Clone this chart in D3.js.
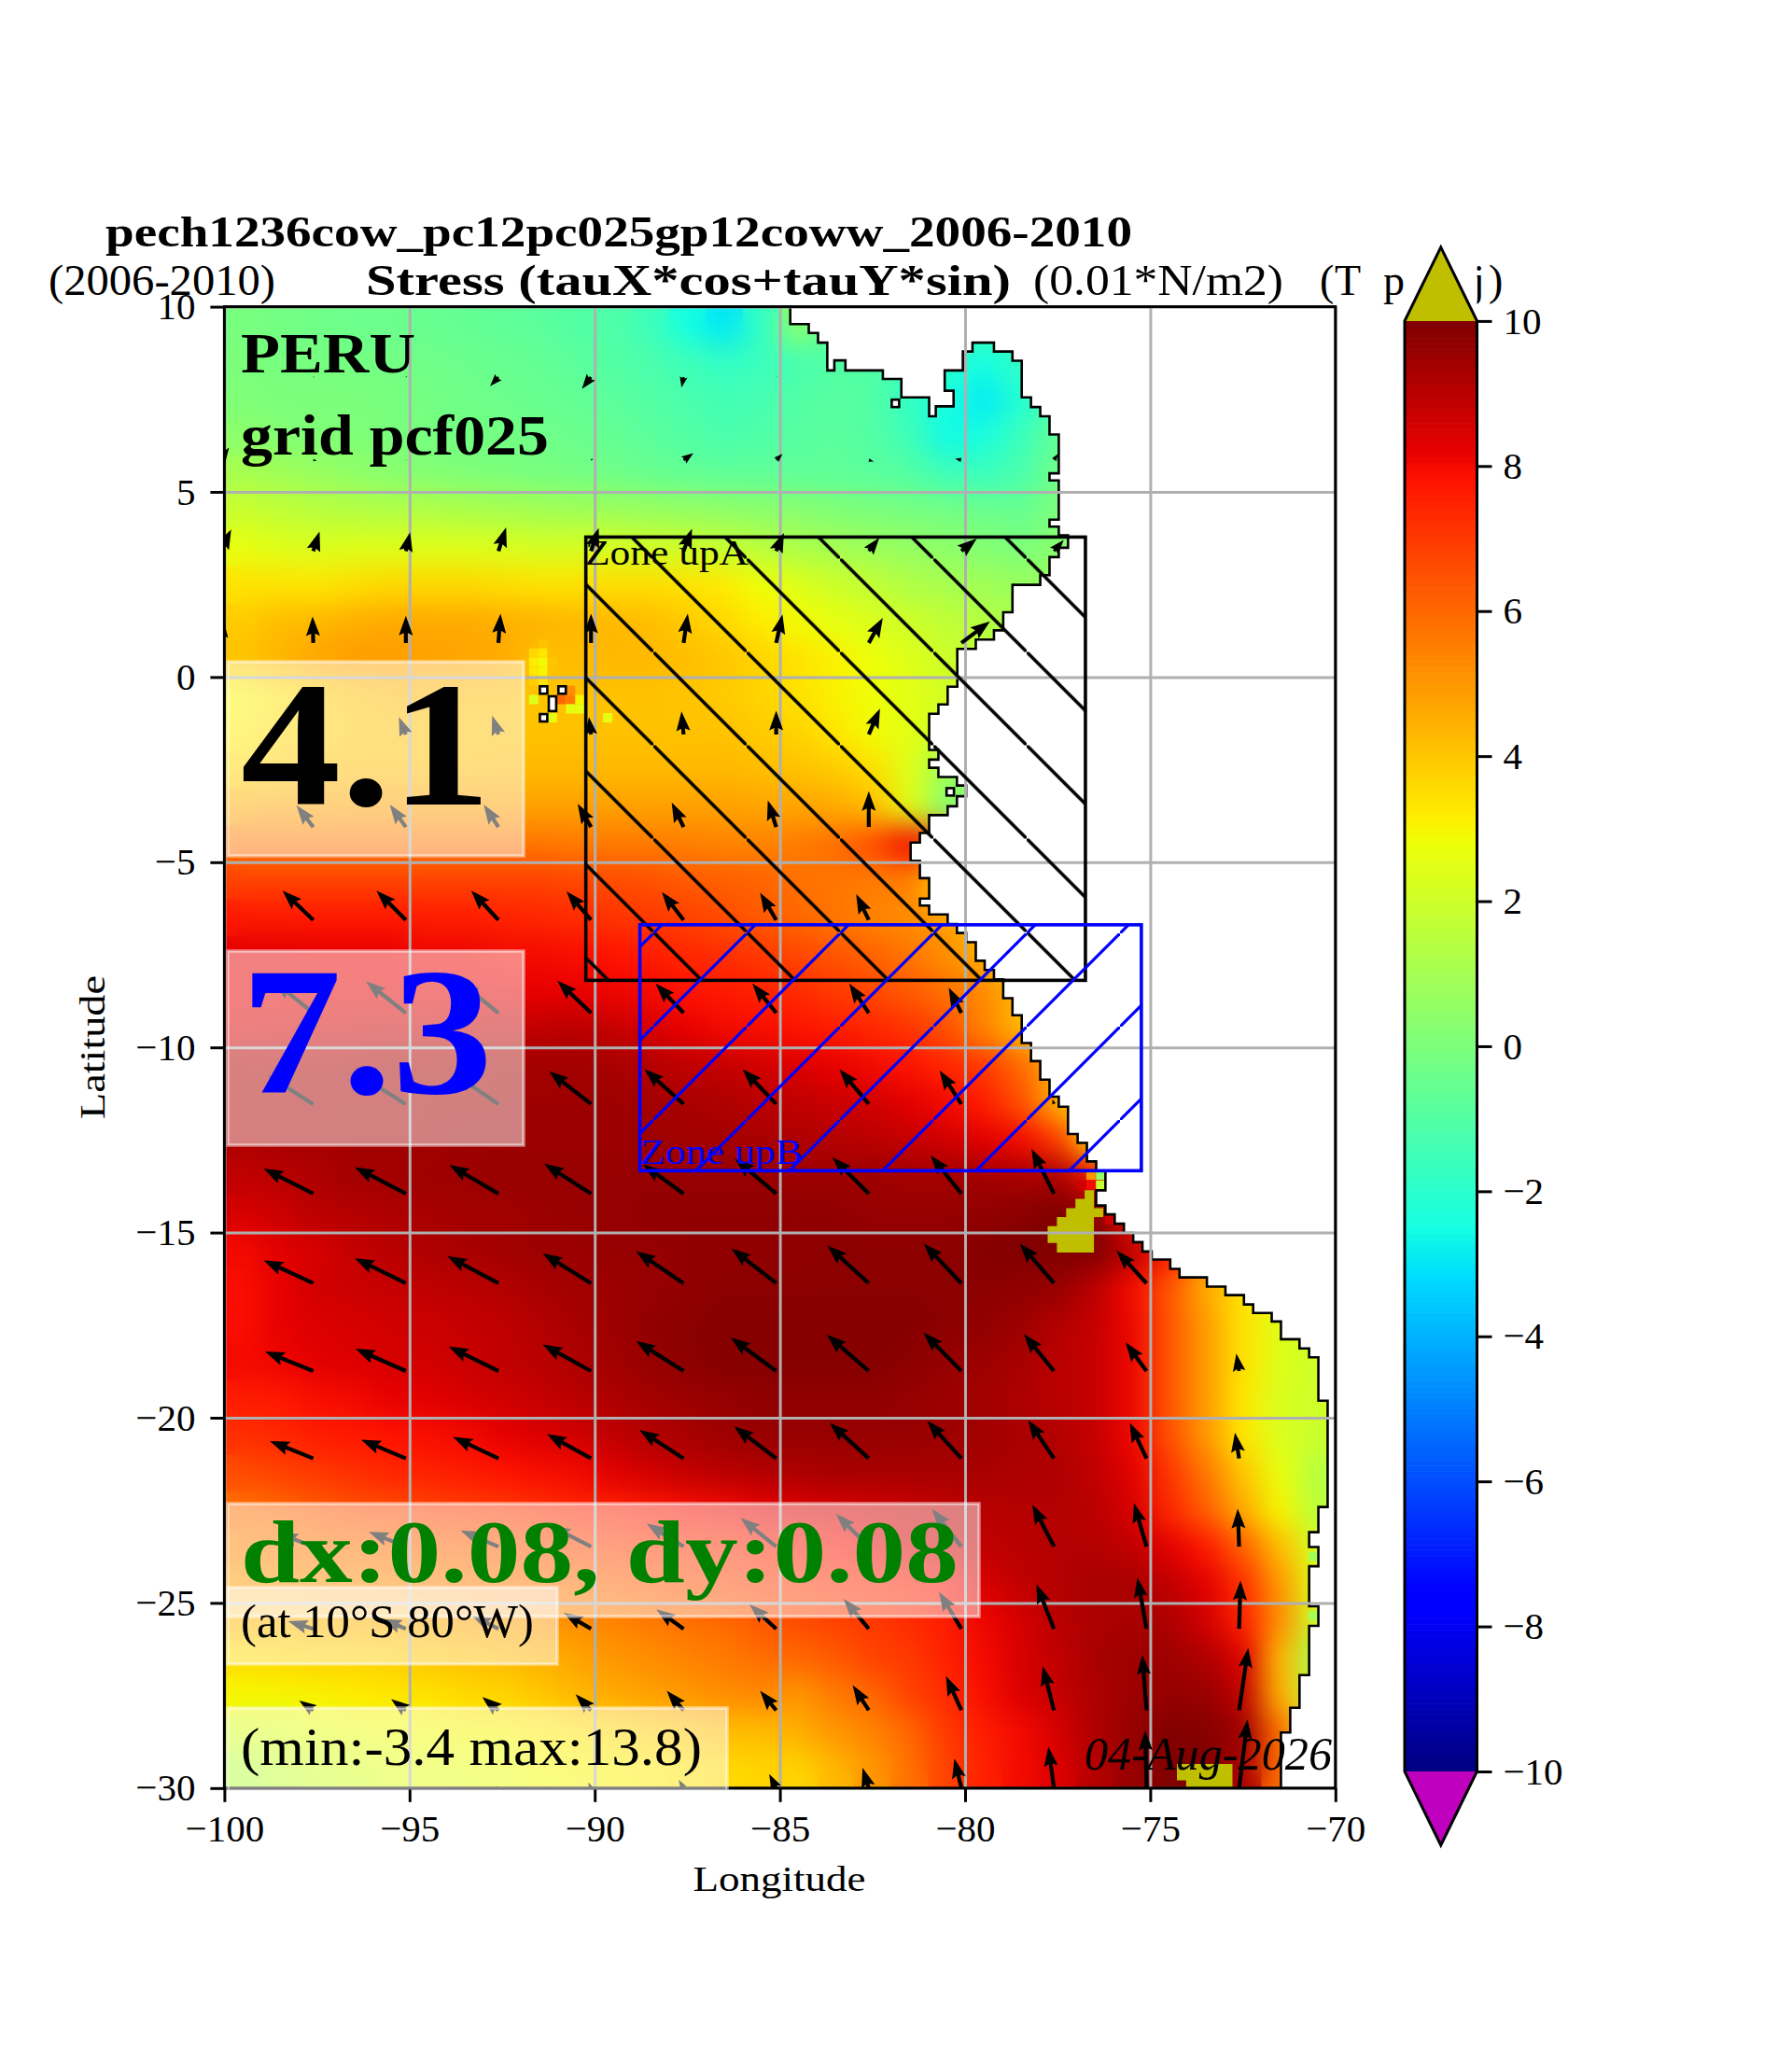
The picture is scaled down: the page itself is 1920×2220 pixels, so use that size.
<!DOCTYPE html>
<html>
<head>
<meta charset="utf-8">
<script src="https://cdn.jsdelivr.net/npm/d3@7"></script>
<style>
html,body{margin:0;padding:0;background:#fff}
svg{display:block}
text{font-family:"Liberation Serif",serif}
</style>
</head>
<body>
<svg id="chart" width="1920" height="2220"></svg>
<script>
// stress field, 1 degree boxes, north to south, west to east
var fieldLat = d3.range(9.5,-30,-1)
var fieldLon = d3.range(-99.5,-70,1)
var stress = [
[-.1,-.2,-.3,-.4,-.4,-.5,-.6,-.7,-.8,-1,-1.1,-1.5,-2.5,-3,-1.8,.5,-1,-1,-1,-1,-1.5,-1.5,-1.5,-1,-1,-1,-1,-1,-1,-1],
[0,-.1,-.1,-.2,-.2,-.3,-.4,-.5,-.6,-.8,-1,-1.2,-1.5,-1.8,-1.6,-1.3,-1,-1,-1.5,-2,-2.5,-1.8,-1,-1,-1,-1,-1,-1,-1,-1],
[.1,0,0,0,-.1,-.2,-.3,-.4,-.5,-.6,-.8,-1,-1.2,-1.4,-1.3,-1,-.9,-1,-1.8,-2.4,-2.9,-2.2,-1,-1,-1,-1,-1,-1,-1,-1],
[.4,.2,.1,.1,0,-.1,-.2,-.2,-.3,-.4,-.6,-.8,-1,-1.2,-1.1,-.9,-.8,-1,-1.5,-2.6,-2.4,-1.6,-.6,-.5,-.5,-.5,-.5,-.5,-.5,-.5],
[1.1,.9,.7,.5,.3,.2,.1,0,-.1,-.2,-.3,-.5,-.6,-.7,-.7,-.7,-.7,-.8,-1,-1.5,-1.6,-1.2,-.3,-.2,-.2,-.2,-.2,-.2,-.2,-.2],
[1.9,1.7,1.5,1.4,1.3,1.3,1.2,1.1,1,.9,.8,.7,.6,.5,.4,.3,.1,0,-.1,-.2,-.4,-.5,0,.4,.4,.4,.4,.4,.4,.4],
[2.6,2.4,2.3,2.4,2.4,2.4,2.4,2.3,2.2,2.2,2.2,2.1,2,1.8,1.5,1.2,1,.8,.6,.4,.2,0,.3,.5,.5,.5,.5,.5,.5,.5],
[3.4,3.4,3.3,3.5,3.6,3.6,3.6,3.5,3.4,3.4,3.5,3.5,3.4,3.2,2.8,2.4,2,1.7,1.3,1.1,.9,.7,.7,.7,.7,.7,.7,.7,.7,.7],
[3.9,4.2,4.3,4.5,4.6,4.6,4.6,4.5,4.4,4.3,4.3,4.2,3.9,3.6,3.2,2.9,2.6,2.3,2,1.7,1.4,1.2,1,1,1,1,1,1,1,1],
[4.1,4.4,4.7,4.9,4.9,4.8,4.7,4.6,4.2,4.2,4.3,4.3,4.2,4,3.7,3.4,3.1,2.8,2.4,2,1.6,1.2,1,1,1,1,1,1,1,1],
[3,3.4,3.8,4.1,4.3,4.3,4.2,4.2,4,4.1,4.1,4.1,4,3.9,3.7,3.4,3.1,2.8,2.5,2.2,1.6,1.2,1,1,1,1,1,1,1,1],
[3.2,3.6,3.8,4,4.1,4.1,4.1,4.1,4.1,4.1,4.1,4.1,4.1,4.1,3.9,3.7,3.3,2.9,2.5,2,1.5,1,1,1,1,1,1,1,1,1],
[3.7,3.9,4.1,4.2,4.2,4.2,4.2,4.3,4.3,4.3,4.3,4.3,4.3,4.3,4.2,4.1,3.9,3.5,2.4,.8,.5,.5,.5,.5,.5,.5,.5,.5,.5,.5],
[4.6,4.7,4.7,4.8,4.8,4.8,4.8,4.8,4.8,4.8,4.8,4.8,4.8,4.8,4.7,4.7,4.6,4.2,2.5,.3,0,0,0,0,0,0,0,0,0,0],
[5.7,5.7,5.7,5.7,5.7,5.7,5.7,5.7,5.7,5.6,5.6,5.6,5.5,5.4,5.4,5.6,5.9,6.6,8,6,3,3,3,3,3,3,3,3,3,3],
[6.8,6.8,6.8,6.8,6.8,6.8,6.8,6.8,6.8,6.7,6.6,6.5,6.3,6.2,6.1,5.8,5.7,5.6,5.5,3.5,3,3,3,3,3,3,3,3,3,3],
[7.7,7.7,7.7,7.7,7.7,7.6,7.6,7.5,7.4,7.3,7.1,7,6.8,6.6,6.3,6,5.7,5.4,5.2,4.8,4,3.5,3,3,3,3,3,3,3,3],
[8.3,8.3,8.2,8.2,8.2,8.1,8.1,8,8,7.9,7.8,7.6,7.4,7.2,7,6.7,6.4,6.1,5.7,5.2,4.5,3.5,3,3,3,3,3,3,3,3],
[8.2,8.2,8.2,8.2,8.2,8.2,8.2,8.2,8.2,8.2,8.1,8,7.8,7.7,7.5,7.3,7,6.7,6.3,5.8,5.3,4.3,3.5,3,3,3,3,3,3,3],
[8.4,8.5,8.6,8.6,8.7,8.7,8.8,8.8,8.9,9,8.8,8.5,8.2,8,7.9,7.8,7.6,7.4,7.1,6.5,5.4,4.3,3.5,3,3,3,3,3,3,3],
[9.2,9.2,9.2,9.3,9.3,9.3,9.3,9.4,9.4,9.4,9.3,9.1,8.9,8.8,8.6,8.4,8.2,8,7.8,7.4,7,6,4.5,3.5,3,3,3,3,3,3],
[9.2,9.2,9.3,9.3,9.3,9.4,9.4,9.4,9.5,9.5,9.5,9.4,9.3,9.2,9,8.9,8.7,8.6,8.3,8,7.6,6.5,4.5,3,3,3,3,3,3,3],
[9.2,9.3,9.3,9.4,9.4,9.4,9.5,9.5,9.5,9.5,9.5,9.5,9.4,9.4,9.3,9.2,9.1,9,8.8,8.6,8.3,8,7,3.5,3,3,3,3,3,3],
[8.9,9,9.2,9.4,9.4,9.5,9.5,9.6,9.6,9.6,9.6,9.6,9.6,9.6,9.6,9.5,9.5,9.5,9.4,9.4,9.4,9.3,9.3,8,1,1,1,1,1,1],
[8.5,8.7,9,9.1,9.2,9.3,9.4,9.4,9.5,9.6,9.6,9.7,9.7,9.7,9.7,9.7,9.7,9.6,9.6,9.6,9.7,9.8,10,10,8,5,5,5,5,5],
[8,8.3,8.5,8.8,9,9.2,9.3,9.4,9.5,9.5,9.6,9.6,9.7,9.7,9.7,9.7,9.8,9.8,9.8,9.8,9.9,10,10,10,9,7.8,5,5,5,5],
[7.9,8.2,8.6,8.7,8.8,8.9,9,9.1,9.3,9.4,9.5,9.6,9.7,9.8,9.8,9.8,9.8,9.8,9.8,9.8,9.8,9.7,9.6,9,8,6.4,4.6,3.4,3,3],
[7.9,8.2,8.4,8.5,8.6,8.7,8.8,8.9,9.1,9.3,9.5,9.7,9.8,9.9,9.9,9.9,9.9,9.9,9.9,9.8,9.7,9.5,9.1,8.8,8.1,6.4,4.9,3.4,2.4,2],
[8,8.1,8.3,8.4,8.5,8.6,8.7,8.9,9,9.2,9.4,9.6,9.8,9.9,9.9,9.9,9.9,9.9,9.8,9.6,9.5,9.3,9,8.8,8.1,6.4,4.9,3.4,2.4,2],
[7.6,7.7,7.9,8,8.2,8.3,8.5,8.6,8.8,9,9.2,9.4,9.5,9.6,9.7,9.7,9.7,9.7,9.6,9.5,9.4,9.2,9,8.8,8.1,6.4,4.9,3.3,2.3,2],
[7.2,7.4,7.6,7.7,7.8,7.9,8,8.2,8.4,8.6,8.9,9.1,9.3,9.5,9.6,9.6,9.6,9.6,9.6,9.5,9.4,9.3,9.1,8.8,8.1,6.5,5,3.3,2.3,1.9],
[6.6,6.8,7,7.2,7.4,7.5,7.6,7.8,7.9,8,8.3,8.6,8.8,9,9.1,9.2,9.3,9.3,9.3,9.3,9.3,9.2,9.2,8.9,8.3,7.1,5.7,4,2.7,1.4],
[5.8,6,6.3,6.5,6.6,6.8,6.9,7,7.2,7.4,7.5,7.7,7.9,8,8.2,8.4,8.5,8.6,8.7,8.9,9,9.1,9.1,9,8.5,7.4,6.2,4.6,3,1.5],
[5.4,5.5,5.7,5.8,5.9,6,6.1,6.2,6.4,6.6,6.8,7,7.1,7.2,7.4,7.6,7.8,8.1,8.4,8.6,8.9,9,9.1,9.1,8.9,8.3,7.7,6.2,4.2,2.2],
[4.9,5,5.1,5.2,5.3,5.4,5.5,5.6,5.7,5.9,6.1,6.3,6.5,6.7,6.9,7,7.2,7.3,7.5,7.8,8.5,8.9,9.1,9.3,9.3,8.9,8.3,7.2,5,2.5],
[4.3,4.3,4.4,4.4,4.5,4.6,4.7,4.8,5,5.2,5.4,5.6,5.8,6,6.3,6.6,6.8,7,7.3,7.6,8.1,8.5,9,9.2,9.3,9.2,8.6,7.5,5.2,2],
[3.5,3.6,3.7,3.7,3.8,4,4.1,4.2,4.4,4.7,5,5.2,5.4,5.6,5.9,6,6.3,6.8,7,7.5,8,8.5,8.9,9.3,9.5,9.5,9.2,8.4,4.3,1],
[3,3,3.1,3.2,3.3,3.4,3.6,3.7,4,4.3,4.6,4.8,5,5.2,5.3,5,5.6,6,6.8,7.3,7.9,8.4,8.8,9.2,9.5,9.6,9.6,8.9,4.5,1.5],
[2.2,2.3,2.5,2.7,2.8,2.9,3,3,3.2,3.4,3.6,3.8,4,4.2,4.2,4.5,5,5.4,6,7,7.6,8,8.5,9.2,9.6,10,9.9,9.5,6,2.5],
[1.4,1.7,2,2.2,2.4,2.5,2.6,2.7,2.9,3,3.1,3.2,3.4,3.6,3.7,3.7,4.3,5,5.8,6.8,7.5,8,8.4,9.1,9.6,10,10,9.3,6,3]
]

// single 0.25 degree boxes that stand out from their surroundings
var spotLon = [-91.4,-91.65,-91.4,-91.15,-91.65,-91.4,-91.15,-91.9,-91.65,-91.4,-91.15,-91.9,-91.65,-91.4,
  -90.9,-90.65,-90.9,-90.65,-90.4,-91.65,-90.65,-90.4,-89.65,-91.15,
  -76.34,-76.34,-76.6,-76.6,-76.85,-75.6,-75.35,-76.1,-70.6,-70.6,-81.35,-80.85]
var spotLat = [.9,.65,.65,.65,.4,.4,.4,.4,.15,.15,.15,.15,-.1,-.1,
  -.36,-.36,-.61,-.61,-.61,-.61,-.86,-.86,-1.1,-1.1,
  -13.45,-13.72,-13.72,-13.45,-13.72,-14.9,-15.1,-14.65,-23.75,-25.35,-4.6,-5.9]
var spotVal = [4.1,3.6,3.3,4.2,3.2,2.9,4,4.2,3.3,3,4.1,4.2,3.8,3.4,
  5,5.2,6,5.6,3,2.4,2.6,2.6,2.6,2.6,
  .6,1.8,8,5,8.6,5,2.5,8.6,1,1,8,7.8]

// masked islets and the like
var holeLon = [-91.38,-90.88,-91.14,-91.38,-81.88,-80.4]
var holeLat = [-.35,-.35,-.72,-1.1,7.39,-3.1]
var holeRows = [1,1,2,1,1,1]

// coast, drawn as stairs: go down to coastLat, then across to coastLon
var coastStartLon = -84.72
var coastLat = [9.53,9.29,9.03,8.28,8.55,8.28,8.05,7.55,7.04,7.31,7.73,8.28,8.79,9.03,8.79,8.54,7.55,7.29,7.04,6.55,
  5.5,5.31,4.25,4.06,3.83,3.49,3.24,2.75,2.49,1.75,1.26,1.01,.76,-.26,-.74,-.99,-1.97,-2.23,-2.45,-2.7,
  -2.93,-3.22,-3.49,-3.73,-4.21,-4.47,-4.96,-5.43,-5.98,-6.17,-6.41,-6.67,-6.91,-7.16,-7.66,-7.91,-8.16,-8.67,-9.13,-9.88,
  -10.37,-10.87,-11.33,-11.6,-12.34,-12.58,-13.08,-13.33,-13.86,-14.27,-14.51,-14.76,-15.01,-15.26,-15.51,-15.73,-15.98,-16.21,-16.46,-16.69,
  -16.94,-17.17,-17.4,-17.88,-18.13,-18.37,-19.54,-22.41,-23.09,-23.49,-24.01,-25.09,-25.62,-26.95,-27.83,-28.5,-30]
var coastLon = [-84.22,-83.97,-83.72,-83.53,-83.23,-82.22,-81.72,-80.97,-80.79,-80.31,-80.55,-80.06,-79.8,-79.22,-78.72,-78.47,-78.22,-77.97,-77.72,-77.47,
  -77.72,-77.47,-77.72,-77.47,-77.22,-77.47,-77.72,-77.97,-78.72,-78.97,-79.22,-79.71,-80.21,-80.47,-80.72,-80.97,-80.72,-80.97,-80.72,-80.22,
  -79.97,-80.22,-80.47,-80.97,-81.22,-81.47,-81.22,-80.97,-81.22,-80.97,-80.47,-80.22,-79.97,-79.71,-79.47,-79.22,-78.97,-78.72,-78.47,-78.22,
  -77.97,-77.72,-77.47,-77.22,-76.96,-76.71,-76.46,-76.21,-76.46,-76.21,-75.96,-75.71,-75.46,-75.21,-74.96,-74.46,-74.21,-73.47,-72.97,-72.47,
  -72.22,-71.72,-71.47,-70.97,-70.71,-70.46,-70.21,-70.46,-70.71,-70.46,-70.71,-70.46,-70.71,-70.97,-71.22,-71.47,-71.47]

// boxes above the top of the colour scale
var capeLon = [-76.52,-76.77,-76.77,-77.02,-77.02,-77.27,-77.27,-77.52,-77.52,-77.77,-77.77,-77.52,-77.52,-76.52,-76.52,-76.27,-76.27,-76.52]
var capeLat = [-13.86,-13.86,-14.09,-14.09,-14.34,-14.34,-14.58,-14.58,-14.83,-14.83,-15.28,-15.28,-15.54,-15.54,-14.58,-14.58,-14.34,-14.34]
var southLon = [-74.28,-72.78,-72.78,-74.03,-74.03,-74.28]
var southLat = [-29.35,-29.35,-30,-30,-29.79,-29.79]

// wind stress vectors, 0.01 N/m2
var quiverLon = [-100.1,-97.6,-95.1,-92.6,-90.1,-87.6,-85.1,-82.6,-80.1,-77.6,-75.1,-72.6]
var quiverLat = [8.1,5.86,3.4,.92,-1.55,-4.05,-6.56,-9.07,-11.53,-13.95,-16.37,-18.74,-21.1,-23.48,-25.7,-27.9,-30]
var quiverU = [
[.3,.2,.2,-1.2,-1.3,-.3,.1,null,null,null,null,null],
[1.2,.5,.1,0,.3,1.4,.9,.7,-.9,.6,null,null],
[1.5,.9,.6,1.1,1.1,1.2,1.1,1.5,2.2,1.4,null,null],
[.3,-.1,0,.3,0,.6,.9,2,4.1,null,null,null],
[-.3,-1,-1,-.9,-.3,-.3,0,1.6,null,null,null,null],
[null,-2.4,-2.3,-2.1,-1.9,-1.7,-1.2,0,null,null,null,null],
[null,-4.4,-4.2,-3.9,-3.5,-3.1,-2.3,-1.8,null,null,null,null],
[null,-5.6,-5.7,-5.5,-4.8,-4,-3.4,-2.8,-1.8,null,null,null],
[null,-6.5,-6.4,-6.2,-6,-5.6,-4.8,-4.2,-3.1,-.2,null,null],
[null,-7.1,-7.3,-7,-6.7,-5.8,-5.9,-5.2,-4.4,-3.2,null,null],
[null,-7.1,-7.3,-7.3,-6.9,-6.8,-6.4,-5.9,-5.4,-4.9,-4.3,null],
[null,-6.9,-7.2,-7.1,-6.9,-6.8,-6.5,-6,-5.4,-4.3,-3,-.4],
[null,-6.2,-6.4,-6.5,-6.3,-6.3,-6,-5.6,-4.9,-3.7,-2.4,-.6],
[null,-5,-5.3,-5.4,-5.7,-5.3,-5.1,-4.7,-4.2,-3.1,-1.8,-.2],
[null,-3.6,-3.4,-3.8,-3.9,-3.9,-3.8,-3.6,-3.2,-2.5,-1.3,.2],
[null,-2,-2.1,-2.3,-2.2,-2.4,-2.3,-2.3,-2.2,-1.6,-.6,1.3],
[null,-.1,-.2,-.3,-.4,-.7,-1,-.9,-1,-.8,-.2,1.2]
]
var quiverV = [
[0,0,.1,-1.3,-1.7,-1.5,.1,null,null,null,null,null],
[1.8,-.1,.1,.1,.2,1,.9,-.2,.2,.9,null,null],
[3.1,2.8,2.7,3.4,3.3,3.2,2.6,1.9,1.8,1.6,null,null],
[3.6,3.8,3.9,4.2,4.2,4.2,4.1,3.6,3.1,null,null,null],
[1,2.5,2.5,2.7,2.5,3.3,3.4,3.7,null,null,null,null],
[null,3.1,3.2,3.2,3.3,3.5,3.8,5.1,null,null,null,null],
[null,4.2,4.2,4.2,4.1,4,3.9,3.7,null,null,null,null],
[null,4.5,4.5,4.5,4.6,4.2,4.2,4.2,3.6,null,null,null],
[null,4.1,4,4.2,4.7,5,5,5,4.8,.7,null,null],
[null,3.6,3.8,4.1,4.3,4.2,5,5.2,5.5,6.4,null,null],
[null,3.3,3.6,3.9,4.3,4.6,5,5.4,5.7,5.7,4.7,null],
[null,2.8,3.2,3.5,3.8,4.3,4.8,5.2,5.5,5.3,4.1,2.5],
[null,2.5,2.7,3.1,3.5,4.1,4.6,5.1,5.4,5.5,5.1,3.7],
[null,1.9,2.1,2.3,2.9,3.3,4.1,4.7,5.4,6,6.2,5.4],
[null,1.1,1.4,1.9,2.3,2.8,3.5,4.3,5.3,6.4,7.3,6.9],
[null,1.4,1.6,1.9,2.3,2.8,2.8,3.6,4.9,6.3,7.9,8.9],
[null,.2,.2,.3,.8,1.2,2,2.9,4.2,5.9,8.2,9.8]
]

var lonTicks = [-100,-95,-90,-85,-80,-75,-70]
var latTicks = [10,5,0,-5,-10,-15,-20,-25,-30]
var barTicks = [-10,-8,-6,-4,-2,0,2,4,6,8,10]

// zones: west, east, south, north
var zoneA = [-90.24,-76.75,-8.19,3.78]
var zoneB = [-88.78,-75.24,-13.33,-6.69]

// matplotlib jet, break points on 0..1
var jetT = [0,.11,.125,.34,.35,.375,.64,.65,.66,.89,.91,1]
var jetR = [0,0,0,0,0,.081,.935,.968,1,1,.909,.5]
var jetG = [0,0,0,.86,.9,1,1,.963,.926,.074,0,0]
var jetB = [.5,1,1,1,.968,.887,.032,0,0,0,0,0]
var overColor = "#bfbf00"
var underColor = "#bf00bf"

var dimensions = {left:240.4, right:1430.8, top:328.6, bottom:1915.8}
var bar = {left:1505, right:1582.5, top:343.9, bottom:1898, tipTop:264.8, tipBottom:1977}

var xScale = d3.scaleLinear().domain([-100,-70]).range([dimensions.left,dimensions.right])
var yScale = d3.scaleLinear().domain([10,-30]).range([dimensions.top,dimensions.bottom])
var barScale = d3.scaleLinear().domain([10,-10]).range([bar.top,bar.bottom])
var colorScale = d3.scaleLinear()
  .domain(jetT.map(t => t*20-10))
  .range(jetT.map((t,i) => d3.rgb(jetR[i]*255,jetG[i]*255,jetB[i]*255).toString()))
  .clamp(true)

var svg = d3.select("#chart")
var defs = svg.append("defs")

// sea polygon
var seaPoints = [[-100,10],[coastStartLon,10]]
var curLon = coastStartLon
coastLat.forEach((lat,i) => {
  seaPoints.push([curLon,lat])
  curLon = coastLon[i]
  seaPoints.push([curLon,lat])
})
seaPoints.push([curLon,-30],[-100,-30])
var geoLine = d3.line().x(d => xScale(d[0])).y(d => yScale(d[1]))

defs.append("clipPath").attr("id","seaClip").append("path").attr("d",geoLine(seaPoints)+"Z")
defs.append("clipPath").attr("id","axesClip").append("rect")
  .attr("x",dimensions.left).attr("y",dimensions.top)
  .attr("width",dimensions.right-dimensions.left).attr("height",dimensions.bottom-dimensions.top)
defs.append("filter").attr("id","smooth").attr("filterUnits","userSpaceOnUse")
  .attr("x",0).attr("y",0).attr("width",1920).attr("height",2220)
  .attr("color-interpolation-filters","sRGB")
  .append("feGaussianBlur").attr("stdDeviation",15)

// hatching
var hatchA = defs.append("pattern").attr("id","hatchA").attr("patternUnits","userSpaceOnUse")
  .attr("width",100).attr("height",100).attr("patternTransform","translate(0,-1.5)")
hatchA.append("path").attr("d","M-10,-10L110,110").attr("stroke","#000").attr("stroke-width",3.5)
var hatchB = defs.append("pattern").attr("id","hatchB").attr("patternUnits","userSpaceOnUse")
  .attr("width",100).attr("height",100)
hatchB.append("path").attr("d","M-10,110L110,-10").attr("stroke","#00f").attr("stroke-width",3.2)

// field
var fieldCells = []
stress.forEach((row,j) => row.forEach((v,i) => fieldCells.push({lon:fieldLon[i],lat:fieldLat[j],v:v})))
var field = svg.append("g").attr("clip-path","url(#seaClip)")
function drawCells(g){
  g.selectAll("rect").data(fieldCells).join("rect")
    .attr("x",d => xScale(d.lon-.5))
    .attr("y",d => yScale(d.lat+.5))
    .attr("width",xScale(1)-xScale(0)+.5)
    .attr("height",yScale(0)-yScale(1)+.5)
    .attr("fill",d => colorScale(d.v))
}
drawCells(field.append("g"))
drawCells(field.append("g").attr("filter","url(#smooth)"))

field.append("g").selectAll("rect").data(spotVal).join("rect")
  .attr("x",(d,i) => xScale(spotLon[i]-.125))
  .attr("y",(d,i) => yScale(spotLat[i]+.125))
  .attr("width",xScale(.25)-xScale(0))
  .attr("height",yScale(0)-yScale(.25))
  .attr("fill",d => colorScale(d))

var capePoints = capeLon.map((d,i) => [d,capeLat[i]])
var southPoints = southLon.map((d,i) => [d,southLat[i]])
field.append("path").attr("d",geoLine(capePoints)+"Z").attr("fill",overColor)
field.append("path").attr("d",geoLine(southPoints)+"Z").attr("fill",overColor)

// coast outline
svg.append("path").attr("d",geoLine(seaPoints.slice(1,-2).concat([[curLon,-30]])))
  .attr("fill","none").attr("stroke","#000").attr("stroke-width",2.6)
  .attr("clip-path","url(#axesClip)")

svg.append("g").selectAll("rect").data(holeLon).join("rect")
  .attr("x",(d,i) => xScale(d-.1))
  .attr("y",(d,i) => yScale(holeLat[i]+.1*holeRows[i]))
  .attr("width",xScale(.2)-xScale(0))
  .attr("height",(d,i) => (yScale(0)-yScale(.2))*holeRows[i])
  .attr("fill","#fff").attr("stroke","#000").attr("stroke-width",2.6)

// grid
var gridX = svg.append("g").attr("transform",`translate(0,${dimensions.bottom})`)
  .call(d3.axisBottom(xScale).tickValues(lonTicks).tickSize(dimensions.top-dimensions.bottom).tickFormat(""))
var gridY = svg.append("g").attr("transform",`translate(${dimensions.left},0)`)
  .call(d3.axisLeft(yScale).tickValues(latTicks).tickSize(dimensions.left-dimensions.right).tickFormat(""))
gridX.select(".domain").remove()
gridY.select(".domain").remove()
svg.selectAll("g g.tick line").attr("stroke","#b0b0b0").attr("stroke-width",3)

// arrows
var arrowScale = 7.5, shaftW = 4.2, headW = 15, headLen = 21, headAxis = 18.5
var arrows = []
quiverU.forEach((row,j) => row.forEach((u,i) => {
  if(u!==null) arrows.push({lon:quiverLon[i],lat:quiverLat[j],u:u,v:quiverV[j][i]})
}))
function arrowPath(d){
  var L = Math.hypot(d.u,d.v)*arrowScale
  var s = L<headLen ? L/headLen : 1
  var w = shaftW*s/2, hw = headW*s/2, hl = headLen*s, ha = headAxis*s
  return "M0,"+(-w)+"L"+(L-ha)+","+(-w)+"L"+(L-hl)+","+(-hw)+"L"+L+",0L"+(L-hl)+","+hw+"L"+(L-ha)+","+w+"L0,"+w+"Z"
}
svg.append("g").attr("clip-path","url(#axesClip)")
  .selectAll("path").data(arrows).join("path")
  .attr("d",arrowPath)
  .attr("transform",d => `translate(${xScale(d.lon)},${yScale(d.lat)}) rotate(${Math.atan2(-d.v,d.u)*180/Math.PI})`)
  .attr("fill","#000")

// zones
function drawZone(z,color,hatch,sw){
  svg.append("rect").attr("x",xScale(z[0])).attr("y",yScale(z[3]))
    .attr("width",xScale(z[1])-xScale(z[0])).attr("height",yScale(z[2])-yScale(z[3]))
    .attr("fill","url(#"+hatch+")").attr("stroke",color).attr("stroke-width",sw)
}
drawZone(zoneA,"#000","hatchA",3.6)
drawZone(zoneB,"#00f","hatchB",3.6)

function label(x,y,str,size,opt){
  opt = opt||{}
  var t = svg.append("text").attr("x",x).attr("y",y).text(str)
    .attr("font-size",size)
    .attr("fill",opt.color||"#000")
    .attr("font-weight",opt.bold?"bold":"normal")
    .attr("font-style",opt.italic?"italic":"normal")
  if(opt.width) t.attr("textLength",opt.width).attr("lengthAdjust","spacingAndGlyphs")
  return t
}
label(627,605,"Zone upA",38,{width:175})
label(686,1247,"Zone upB",38,{color:"#00f",width:174})

// spines and ticks
svg.append("rect").attr("x",dimensions.left).attr("y",dimensions.top)
  .attr("width",dimensions.right-dimensions.left).attr("height",dimensions.bottom-dimensions.top)
  .attr("fill","none").attr("stroke","#000").attr("stroke-width",3)
var xAxis = svg.append("g").attr("transform",`translate(0,${dimensions.bottom})`)
  .call(d3.axisBottom(xScale).tickValues(lonTicks).tickSize(15).tickPadding(13))
var yAxis = svg.append("g").attr("transform",`translate(${dimensions.left},0)`)
  .call(d3.axisLeft(yScale).tickValues(latTicks).tickSize(15).tickPadding(16))
;[xAxis,yAxis].forEach(a => {
  a.select(".domain").remove()
  a.selectAll("line").attr("stroke","#000").attr("stroke-width",3)
  a.selectAll("text").attr("font-size",41).attr("font-family","Liberation Serif").attr("fill","#000")
})

label(835,2026,"Longitude",37,{width:185}).attr("text-anchor","middle")
svg.append("text").attr("transform","translate(112,1122) rotate(-90)").attr("text-anchor","middle")
  .attr("font-size",37).attr("textLength",154).attr("lengthAdjust","spacingAndGlyphs").text("Latitude")

// titles
label(113,264,"pech1236cow_pc12pc025gp12coww_2006-2010",46,{bold:true,width:1100})
label(52,316,"(2006-2010)",46,{width:243})
label(392,316,"Stress (tauX*cos+tauY*sin)",46,{bold:true,width:691})
label(1107,316,"(0.01*N/m2)",46,{width:268})
label("1414 1430 1465 1482 1507 1530 1578 1595",316,"(T proj)",46)

// in-plot notes
function noteBox(x0,y0,x1,y1){
  svg.append("rect").attr("x",x0).attr("y",y0).attr("width",x1-x0).attr("height",y1-y0)
    .attr("fill","#fff").attr("fill-opacity",.5)
    .attr("stroke","#fff").attr("stroke-opacity",.5).attr("stroke-width",3.5)
}
label(258,399,"PERU",62,{bold:true,width:187})
label(258,487,"grid pcf025",62,{bold:true,width:330})
noteBox(244,709,561,917)
label(258,862,"4.1",190,{bold:true,width:268})
noteBox(244,1019,561,1227)
label(258,1171,"7.3",196,{bold:true,color:"#00f",width:270})
noteBox(244,1611,1049,1732)
label(258,1695,"dx:0.08, dy:0.08",95,{bold:true,color:"#008000",width:769})
noteBox(244,1701,597,1783)
label(258,1754,"(at 10°S 80°W)",50,{width:314})
svg.append("clipPath").attr("id","minClip").append("rect").attr("x",240).attr("y",1820).attr("width",560).attr("height",97.5)
var minG = svg.append("g").attr("clip-path","url(#minClip)")
minG.append("rect").attr("x",244).attr("y",1830).attr("width",535).attr("height",100)
  .attr("fill","#fff").attr("fill-opacity",.5).attr("stroke","#fff").attr("stroke-opacity",.5).attr("stroke-width",3.5)
label(258,1891,"(min:-3.4 max:13.8)",58,{width:494})
label(1162,1896,"04-Aug-2026",50,{italic:true,width:265})

// colour bar
svg.append("rect").attr("x",bar.left).attr("y",bar.tipTop).attr("width",bar.right-bar.left).attr("height",bar.top-bar.tipTop).attr("fill","#fff")
var barValues = d3.range(-10,10,20/256)
svg.append("g").selectAll("rect").data(barValues).join("rect")
  .attr("x",bar.left).attr("width",bar.right-bar.left)
  .attr("y",d => barScale(d+20/256))
  .attr("height",barScale(0)-barScale(20/256)+.6)
  .attr("fill",d => colorScale(d+10/256))
var midX = (bar.left+bar.right)/2
svg.append("path").attr("d",`M${bar.left},${bar.top}L${midX},${bar.tipTop}L${bar.right},${bar.top}Z`).attr("fill",overColor)
svg.append("path").attr("d",`M${bar.left},${bar.bottom}L${midX},${bar.tipBottom}L${bar.right},${bar.bottom}Z`).attr("fill",underColor)
svg.append("path")
  .attr("d",`M${bar.left},${bar.top}L${midX},${bar.tipTop}L${bar.right},${bar.top}L${bar.right},${bar.bottom}L${midX},${bar.tipBottom}L${bar.left},${bar.bottom}Z`)
  .attr("fill","none").attr("stroke","#000").attr("stroke-width",3)
var barAxis = svg.append("g").attr("transform",`translate(${bar.right},0)`)
  .call(d3.axisRight(barScale).tickValues(barTicks).tickSize(16).tickPadding(12))
barAxis.select(".domain").remove()
barAxis.selectAll("line").attr("stroke","#000").attr("stroke-width",3)
barAxis.selectAll("text").attr("font-size",41).attr("font-family","Liberation Serif").attr("fill","#000")
</script>
</body>
</html>
